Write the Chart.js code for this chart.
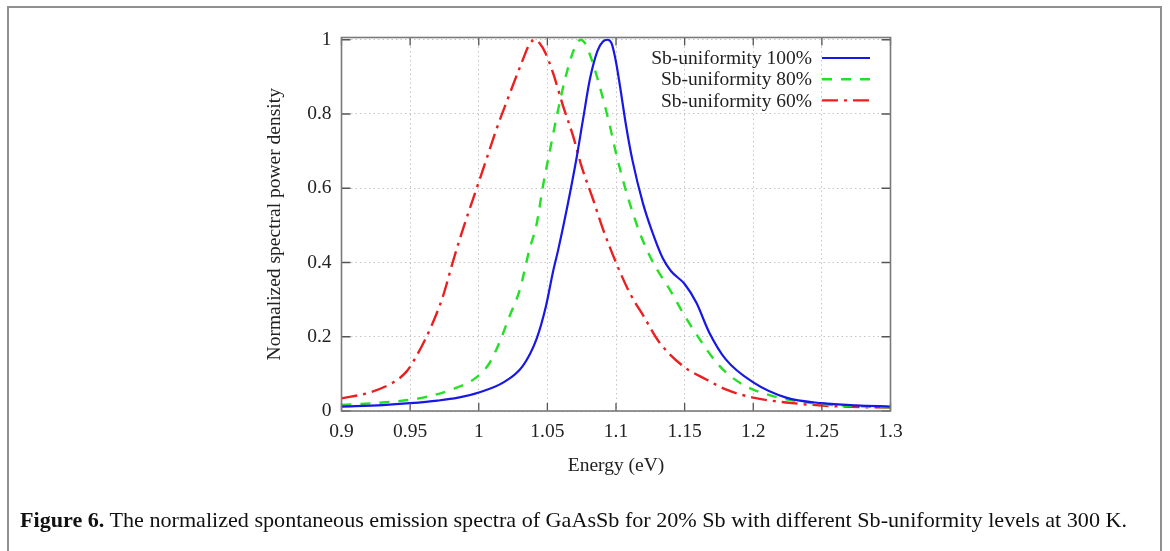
<!DOCTYPE html>
<html>
<head>
<meta charset="utf-8">
<script src="https://cdn.jsdelivr.net/npm/chart.js@4.4.1/dist/chart.umd.min.js"></script>
<style>
  html, body { margin: 0; padding: 0; background: #fff; }
  #wrap { position: relative; width: 1170px; height: 551px; overflow: hidden; }
  #frame { position: absolute; left: 7px; top: 6px; width: 1155px; height: 600px; border: 2px solid #909090; box-sizing: border-box; }
  #myChart { position: absolute; left: 0; top: 0; }
  #caption { position: absolute; left: 20px; top: 508px; font-family: 'Liberation Serif', serif; font-size: 21px; color: #111; white-space: nowrap; transform-origin: left top; }
</style>
</head>
<body>
<div id="wrap">
  <div id="frame"></div>
  <canvas id="myChart" width="1170" height="551"></canvas>
  <div id="caption"><b>Figure 6.</b> The normalized spontaneous emission spectra of GaAsSb for 20% Sb with different Sb-uniformity levels at 300 K.</div>
</div>
<script>
const seriesLabels = ['Sb-uniformity 100%', 'Sb-uniformity 80%', 'Sb-uniformity 60%'];

const xTicks = [0.9, 0.95, 1, 1.05, 1.1, 1.15, 1.2, 1.25, 1.3];
const xTickLabels = ['0.9', '0.95', '1', '1.05', '1.1', '1.15', '1.2', '1.25', '1.3'];
const yTicks = [0, 0.2, 0.4, 0.6, 0.8, 1];
const yTickLabels = ['0', '0.2', '0.4', '0.6', '0.8', '1'];

// Sb-uniformity 100%
const e100 = [0.9, 0.93, 0.95, 0.97, 0.985, 1.0, 1.018, 1.032, 1.042, 1.049, 1.054, 1.058, 1.0645, 1.0711, 1.076, 1.081, 1.0865, 1.0905, 1.0937,
  1.0968, 1.1, 1.1027, 1.1075, 1.112, 1.1196, 1.1257, 1.134, 1.14, 1.15, 1.1585, 1.168, 1.18, 1.2, 1.224, 1.25, 1.275, 1.3];
const v100 = [0.012, 0.016, 0.021, 0.028, 0.036, 0.05, 0.077, 0.121, 0.193, 0.283, 0.373, 0.436, 0.55, 0.678, 0.786, 0.894, 0.97, 0.995, 1.0,
  0.99, 0.94, 0.88, 0.765, 0.675, 0.56, 0.49, 0.412, 0.377, 0.342, 0.292, 0.211, 0.139, 0.077, 0.036, 0.021, 0.015, 0.012];

// Sb-uniformity 80%
const e80 = [0.9, 0.93, 0.9594, 0.984, 0.998, 1.008, 1.015, 1.0225, 1.03, 1.037, 1.042, 1.0468, 1.053, 1.0566, 1.0626, 1.068, 1.0715, 1.0743,
  1.0775, 1.081, 1.088, 1.0954, 1.1003, 1.1075, 1.1172, 1.127, 1.139, 1.1487, 1.161, 1.1755, 1.192, 1.2143, 1.2434, 1.282, 1.3];
const v80 = [0.016, 0.023, 0.036, 0.063, 0.09, 0.13, 0.184, 0.256, 0.328, 0.436, 0.5, 0.606, 0.723, 0.79, 0.89, 0.96, 0.99, 1.0,
  0.99, 0.96, 0.876, 0.77, 0.69, 0.59, 0.481, 0.4, 0.328, 0.265, 0.193, 0.121, 0.072, 0.04, 0.021, 0.012, 0.01];

// Sb-uniformity 60%
const e60 = [0.9, 0.9206, 0.9376, 0.9473, 0.9546, 0.9655, 0.974, 0.981, 0.9885, 0.9983, 1.0056, 1.0129, 1.0226, 1.032, 1.0365, 1.0408,
  1.0445, 1.0485, 1.054, 1.0614, 1.0687, 1.0748, 1.0832, 1.0905, 1.1, 1.11, 1.12, 1.1318, 1.1488, 1.1658, 1.18, 1.2, 1.224, 1.258, 1.3];
const v60 = [0.034, 0.05, 0.077, 0.106, 0.148, 0.229, 0.31, 0.4, 0.49, 0.598, 0.678, 0.759, 0.855, 0.945, 0.985, 1.0,
  0.99, 0.965, 0.912, 0.822, 0.741, 0.66, 0.571, 0.49, 0.4, 0.318, 0.256, 0.184, 0.121, 0.085, 0.058, 0.036, 0.023, 0.013, 0.009];

const toPoints = (xs, ys) => xs.map((x, i) => ({ x, y: ys[i] }));

const serif = "'Liberation Serif', 'Times New Roman', serif";

const datasets = [
  { label: seriesLabels[0], data: toPoints(e100, v100), borderColor: '#1717e6', borderWidth: 2.2, borderDash: [] },
  { label: seriesLabels[1], data: toPoints(e80, v80), borderColor: '#25e025', borderWidth: 2.4, borderDash: [10, 9] },
  { label: seriesLabels[2], data: toPoints(e60, v60), borderColor: '#ea2020', borderWidth: 2.4, borderDash: [16, 6, 3, 6] }
];

// gnuplot style frame, inner ticks and legend
const gnuFrame = {
  id: 'gnuFrame',
  afterDraw(chart) {
    const { ctx, chartArea: a, scales } = chart;
    ctx.save();
    ctx.strokeStyle = '#555';
    ctx.lineWidth = 1.3;
    ctx.beginPath();
    xTicks.forEach(v => {
      const px = scales.x.getPixelForValue(v);
      ctx.moveTo(px, a.bottom); ctx.lineTo(px, a.bottom - 8);
      ctx.moveTo(px, a.top); ctx.lineTo(px, a.top + 8);
    });
    yTicks.forEach(v => {
      const py = scales.y.getPixelForValue(v);
      ctx.moveTo(a.left, py); ctx.lineTo(a.left + 9, py);
      ctx.moveTo(a.right, py); ctx.lineTo(a.right - 9, py);
    });
    ctx.stroke();
    ctx.strokeStyle = '#7a7a7a';
    ctx.lineWidth = 1.6;
    ctx.strokeRect(a.left, a.top, a.right - a.left, a.bottom - a.top);

    // legend
    ctx.font = '19.5px ' + serif;
    ctx.fillStyle = '#222';
    ctx.textAlign = 'right';
    ctx.textBaseline = 'middle';
    chart.data.datasets.forEach((ds, i) => {
      const y = 58 + i * 21.2;
      ctx.fillText(ds.label, 812, y + 1);
      ctx.strokeStyle = ds.borderColor;
      ctx.lineWidth = ds.borderWidth;
      ctx.setLineDash(ds.borderDash);
      ctx.beginPath();
      ctx.moveTo(822, y); ctx.lineTo(870, y);
      ctx.stroke();
    });
    ctx.restore();
  }
};

const config = {
  type: 'line',
  data: { datasets },
  options: {
    responsive: false,
    animation: false,
    devicePixelRatio: 1,
    layout: { padding: { left: 255, right: 279.5, top: 37.5, bottom: 70 } },
    elements: {
      point: { radius: 0 },
      line: { cubicInterpolationMode: 'monotone', fill: false }
    },
    plugins: {
      legend: { display: false },
      tooltip: { enabled: false }
    },
    scales: {
      x: {
        type: 'linear',
        min: 0.9,
        max: 1.3,
        afterBuildTicks: s => { s.ticks = xTicks.map(v => ({ value: v })); },
        afterFit: s => { s.height = 70; },
        ticks: {
          autoSkip: false,
          maxRotation: 0,
          padding: 9,
          color: '#222',
          font: { family: serif, size: 19.5 },
          callback: (v) => xTickLabels[xTicks.indexOf(v)]
        },
        grid: { color: '#c4c4c4', lineWidth: 1, drawTicks: false },
        border: { display: false, dash: [1.5, 3] },
        title: {
          display: true,
          text: 'Energy (eV)',
          color: '#222',
          font: { family: serif, size: 19.5 },
          padding: { top: 4, bottom: 3 }
        }
      },
      y: {
        min: 0,
        max: 1.006,
        afterBuildTicks: s => { s.ticks = yTicks.map(v => ({ value: v })); },
        afterFit: s => { s.width = 86.5; },
        ticks: {
          padding: 10,
          color: '#222',
          font: { family: serif, size: 19.5 },
          callback: (v) => yTickLabels[yTicks.indexOf(v)]
        },
        grid: { color: '#c4c4c4', lineWidth: 1, drawTicks: false },
        border: { display: false, dash: [1.5, 3] },
        title: {
          display: true,
          text: 'Normalized spectral power density',
          color: '#222',
          font: { family: serif, size: 19.5 },
          padding: { top: 8, bottom: 4 }
        }
      }
    }
  },
  plugins: [gnuFrame]
};

const myChart = new Chart(document.getElementById('myChart'), config);

// squeeze caption to the width used in the figure
const cap = document.getElementById('caption');
cap.style.transform = 'scaleX(' + (1107 / cap.offsetWidth) + ')';
</script>
</body>
</html>
